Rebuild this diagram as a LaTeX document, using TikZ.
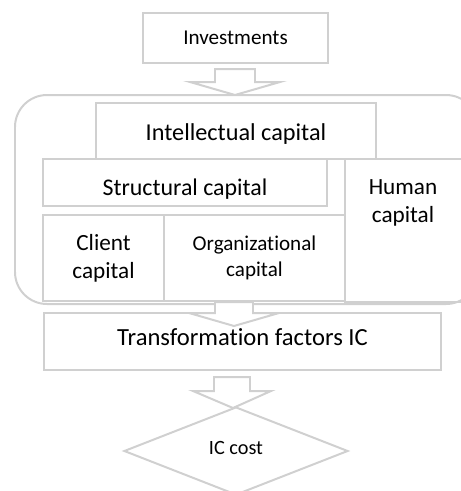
\documentclass[tikz,border=0pt]{standalone}
\usepackage{fontspec}
\setmainfont{Carlito}[Ligatures=NoCommon]
\usetikzlibrary{shapes.geometric}
\definecolor{linegray}{RGB}{208,208,208}
\newcommand\nudge[2]{\raisebox{#1}[\height][\depth]{#2}}
\tikzset{
    box/.style={draw=linegray, line width=1.7pt, inner sep=0pt, align=center},
    blockarrow/.style={draw=linegray, line width=1.7pt, fill=white, line join=miter},
}
\begin{document}
\begin{tikzpicture}[x=0.03cm, y=-0.03cm]
    \useasboundingbox (0,0) rectangle (461,491);
    % frame round the capitals
    \draw[draw=linegray, line width=1.7pt, rounded corners=0.96cm] (15,95) rectangle (478,304);
    \node[box, minimum width=5.55cm, minimum height=1.5cm, font=\fontsize{18}{22}\selectfont] (inv) at (235.5,38) {Investments};
    \node[box, minimum width=8.4cm, minimum height=1.68cm, font=\fontsize{20.7}{25}\selectfont] (intel) at (236,131) {\nudge{-2.5pt}{Intellectual capital}};
    \node[box, minimum width=8.52cm, minimum height=1.41cm, font=\fontsize{20.4}{25}\selectfont] (struct) at (185,182.5) {\nudge{-5.5pt}{Structural capital}};
    \node[box, minimum width=3.75cm, minimum height=4.29cm] (human) at (407.5,230.5) {};
    \node[anchor=north, align=center, inner sep=0pt, font=\fontsize{19.8}{24}\selectfont] (humantext) at (403,179) {Human\\capital};
    \node[box, minimum width=3.63cm, minimum height=2.58cm, font=\fontsize{19.8}{24}\selectfont] (client) at (103.5,258) {Client\\capital};
    \node[box, minimum width=5.43cm, minimum height=2.58cm, font=\fontsize{18}{22}\selectfont] (org) at (254.5,258) {Organizational\\capital};
    \node[box, minimum width=11.91cm, minimum height=1.71cm, font=\fontsize{21}{25}\selectfont] (tf) at (242.5,341.5) {\nudge{3.4pt}{Transformation factors IC}};
    % block arrows
    \coordinate (t1) at (235,95);
    \coordinate (t2) at (234,326);
    \coordinate (t3) at (233,408);
    \draw[blockarrow] (t1) -- ++(-45,-13) -- ++(25,0) -- ++(0,-13) -- ++(40,0) -- ++(0,13) -- ++(25,0) -- cycle;
    \draw[blockarrow] (t2) -- ++(-45,-13) -- ++(26,0) -- ++(0,-11) -- ++(38,0) -- ++(0,11) -- ++(26,0) -- cycle;
    \draw[blockarrow] (t3) -- ++(-40,-17) -- ++(21,0) -- ++(0,-14) -- ++(36,0) -- ++(0,14) -- ++(21,0) -- cycle;
    \node[box, diamond, minimum width=6.72cm, minimum height=2.64cm, font=\fontsize{17.3}{20}\selectfont] (cost) at (236,451) {\nudge{2.5pt}{IC cost}};
\end{tikzpicture}
\end{document}
